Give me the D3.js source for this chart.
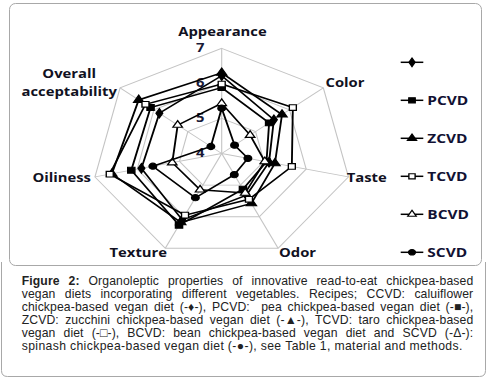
<!DOCTYPE html>
<html><head><meta charset="utf-8">
<script src="https://cdn.jsdelivr.net/npm/d3@7"></script>
<style>body{margin:0;background:#fff}svg{display:block}</style>
</head><body>
<script>
// ---------- data ----------
const axes = ["Appearance","Color","Taste","Odor","Texture","Oiliness","Overall acceptability"];
const seriesNames = ["CCVD","PCVD","ZCVD","TCVD","BCVD","SCVD"];
const legendLabels = ["","PCVD","ZCVD","TCVD","BCVD","SCVD"];
const CCVD = [6.22, 5.54, 5.12, 5.32, 6.10, 5.90, 5.84];
const PCVD = [5.88, 5.40, 5.06, 5.13, 6.27, 6.14, 6.10];
const ZCVD = [6.30, 5.78, 5.26, 5.58, 6.18, 6.60, 6.45];
const TCVD = [5.98, 6.10, 5.66, 5.45, 5.95, 6.65, 6.25];
const BCVD = [5.43, 4.84, 5.02, 5.25, 5.15, 5.17, 5.30];
const SCVD = [5.29, 4.38, 4.62, 4.67, 5.40, 5.63, 4.32];
const tickValues = [4,5,6,7];
const gridValues = [5,6,7];
const captionLines = [
 "Figure 2: Organoleptic properties of innovative read-to-eat chickpea-based",
 "vegan diets incorporating different vegetables. Recipes; CCVD: caluiflower",
 "chickpea-based vegan diet (-\u2666-), PCVD:  pea chickpea-based vegan diet (-\u25A0-),",
 "ZCVD: zucchini chickpea-based vegan diet (-\u25B2-), TCVD: taro chickpea-based",
 "vegan diet (-\u25A1-), BCVD: bean chickpea-based vegan diet and SCVD (-\u0394-):",
 "spinash chickpea-based vegan diet (-\u25CF-), see Table 1, material and methods."
];
const seriesValues = [CCVD,PCVD,ZCVD,TCVD,BCVD,SCVD];

// ---------- layout ----------
const W=491,H=379, SX=1.2357;
const svg=d3.select("body").append("svg").attr("width",W).attr("height",H);
svg.append("rect").attr("width",W).attr("height",H).attr("fill","#fff");

// frames
svg.append("path").attr("d","M1.5,262 V370.5 Q1.5,376.5 7.5,376.5 H479.5 Q485.5,376.5 485.5,370.5 V262")
  .attr("fill","none").attr("stroke","#a8a8a8").attr("stroke-width",1);
svg.append("rect").attr("x",9.5).attr("y",3.5).attr("width",472).attr("height",262).attr("rx",6)
  .attr("fill","#fff").attr("stroke","#a8a8a8").attr("stroke-width",1);

const g=svg.append("g").attr("transform",`scale(${SX},1)`);
const cx=221.7/SX, cy=153.5, R=105.2;
const r=d3.scaleLinear().domain([4,7]).range([0,R]);
const ang=i=>i*2*Math.PI/axes.length;
const pt=(v,i)=>[cx+r(v)*Math.sin(ang(i)), cy-r(v)*Math.cos(ang(i))];

// grid
gridValues.forEach(gv=>{
  g.append("path").attr("d",d3.line().curve(d3.curveLinearClosed)(axes.map((_,i)=>pt(gv,i))))
   .attr("fill","none").attr("stroke","#c4c4c4").attr("stroke-width",0.9);
});
axes.forEach((_,i)=>{
  const p=pt(7,i);
  g.append("line").attr("x1",cx).attr("y1",cy).attr("x2",p[0]).attr("y2",p[1])
   .attr("stroke","#c4c4c4").attr("stroke-width",0.9);
});
// tick labels
tickValues.forEach(t=>{
  g.append("text").attr("x",162).attr("y",cy-r(t)-0.5).attr("dy","0.36em")
   .attr("text-anchor","middle").attr("font-family","Open Sans").attr("font-weight","bold")
   .attr("font-size",12).attr("fill","#1a1a38").text(t);
});
// axis labels
const axisLabelPos=[
 {lines:["Appearance"],x:222.5,y:31.7},
 {lines:["Color"],x:345,y:82.7},
 {lines:["Taste"],x:366.7,y:177.5},
 {lines:["Odor"],x:297.5,y:252.3},
 {lines:["Texture"],x:138.3,y:252.3},
 {lines:["Oiliness"],x:61.7,y:177.7},
 {lines:["Overall","acceptability"],x:69.2,y:74}
];
axisLabelPos.forEach(L=>{
  L.lines.forEach((s,k)=>{
    g.append("text").attr("x",L.x/SX).attr("y",L.y+k*17.7).attr("dy","0.36em")
     .attr("text-anchor","middle").attr("font-family","Open Sans").attr("font-weight","bold")
     .attr("font-size",12).attr("fill","#111122").text(s);
  });
});

// markers
const markers=[
 {type:d3.symbolDiamond,size:26,fill:"#000"},
 {type:d3.symbolSquare,size:34,fill:"#000"},
 {type:d3.symbolTriangle,size:30,fill:"#000"},
 {type:d3.symbolSquare,size:32,fill:"#fff"},
 {type:d3.symbolTriangle,size:26,fill:"#fff"},
 {type:d3.symbolCircle,size:30,fill:"#000"}
];
const lineGen=d3.line().curve(d3.curveLinearClosed);
seriesValues.forEach((vals,s)=>{
  const pts=vals.map((v,i)=>pt(v,i));
  g.append("path").attr("d",lineGen(pts)).attr("fill","none").attr("stroke","#000").attr("stroke-width",1.5);
  const m=markers[s];
  pts.forEach(p=>{
    g.append("path").attr("d",d3.symbol().type(m.type).size(m.size)())
     .attr("transform",`translate(${p[0]},${p[1]})`)
     .attr("fill",m.fill).attr("stroke","#000").attr("stroke-width",1.1);
  });
});

// legend
legendLabels.forEach((lab,s)=>{
  const y=62.3+s*38;
  const x1=400.7/SX,x2=423.3/SX,xm=412/SX;
  g.append("line").attr("x1",x1).attr("x2",x2).attr("y1",y).attr("y2",y).attr("stroke","#000").attr("stroke-width",1.5);
  const m=markers[s];
  g.append("path").attr("d",d3.symbol().type(m.type).size(m.size*0.8)())
   .attr("transform",`translate(${xm},${y})`).attr("fill",m.fill).attr("stroke","#000").attr("stroke-width",1.1);
  g.append("text").attr("x",427.3/SX).attr("y",y).attr("dy","0.36em")
   .attr("font-family","Open Sans").attr("font-weight","bold").attr("font-size",12.5)
   .attr("fill","#111133").text(lab);
});

// caption (justified)
const capFont="Liberation Sans, Arial, sans-serif";
const cap=svg.append("g");
const fs=12.2, ls=0.12;
const left=21.7,right=473.3,lastRight=462.7;
captionLines.forEach((ln,li)=>{
  const y=285.3+li*13;
  const isLast = li===captionLines.length-1;
  const words=ln.split(" ");
  const nodes=words.map((w,wi)=>{
    const bold = li===0 && wi<2;
    return cap.append("text").attr("y",y).attr("font-family",capFont).attr("font-size",fs)
      .attr("letter-spacing",ls)
      .attr("font-weight",bold?"bold":"normal").attr("fill","#222").text(w);
  });
  let widths=nodes.map(n=>n.node().getComputedTextLength());
  const gaps=words.length-1;
  if(isLast){
    // widen letters slightly so the unjustified last line spans like the reference
    const nat=d3.sum(widths)+gaps*fs*0.3;
    const chars=d3.sum(words,w=>w.length);
    const extra=Math.max(0,(lastRight-left-nat)/chars);
    nodes.forEach(n=>n.attr("letter-spacing",ls+extra));
    widths=nodes.map(n=>n.node().getComputedTextLength());
  }
  const total=d3.sum(widths);
  const gap = isLast ? fs*0.3 : (right-left-total)/gaps;
  let x=left;
  nodes.forEach((n,k)=>{ n.attr("x",x); x+=widths[k]+gap; });
});
</script>
</body></html>
